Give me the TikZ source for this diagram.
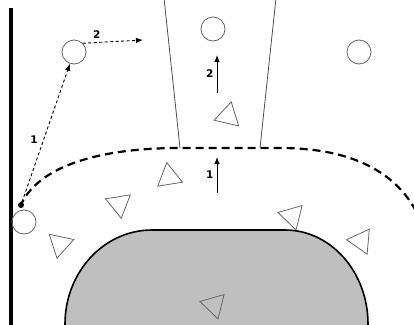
\documentclass[tikz,border=0pt]{standalone}
\usepackage{fontspec}
\setmainfont{DejaVu Sans}
\usetikzlibrary{shapes.geometric,arrows.meta}
\tikzset{node distance=2.5cm, auto,
  player/.style={circle, draw=black!60, line width=0.8pt, minimum size=24pt, inner sep=0pt},
  cone/.style={regular polygon, regular polygon sides=3, draw=black!60, line width=0.8pt, minimum size=29pt, inner sep=0pt},
  run/.style={-{Latex[length=7pt,width=5.5pt]}, line width=0.9pt},
  pass/.style={run, dash pattern=on 3pt off 2.5pt},
  num/.style={font=\bfseries\fontsize{10.5}{10.5}\selectfont, inner sep=3pt}}

\begin{document}
\begin{tikzpicture}[x=1pt,y=-1pt]
                \useasboundingbox (0,0) rectangle (414,324);
                % box and wall
                \draw[line width=1.6pt, fill=black!25] (65,328) -- (65,324)
                  arc[start angle=180, end angle=270, x radius=87, y radius=94] -- (285,230)
                  arc[start angle=270, end angle=360, x radius=83, y radius=94] -- (368,328);
                \draw[line width=3.5pt] (11,8) -- (11,328);
                \draw[black!70, line width=0.8pt] (164,-2) -- (180,148);
                \draw[black!70, line width=0.8pt] (276,-2) -- (260,148);
                \draw[line width=2.2pt, dash pattern=on 8pt off 5pt] (20,207)
                  .. controls (35,170) and (90,148) .. (180,148) -- (280,148)
                  .. controls (360,148) and (400,178) .. (418,215);
                % players
                \node[player] (P1) at (74,52)  {};
                \node[player] (P2) at (213,29) {};
                \node[player] (P3) at (359,52) {};
                \node[player] (P4) at (24,222) {};
                \node[circle, fill, inner sep=0pt, minimum size=6pt] (D) at (21,205) {};
                % cones
                \node[cone, rotate=-13] (T1) at (228,116) {};
                \node[cone, rotate=9]   (T2) at (169,177) {};
                \node[cone, rotate=-51] (T3) at (119,204) {};
                \node[cone, rotate=48]  (T4) at (60,244)  {};
                \node[cone, rotate=-44] (T5) at (292,216) {};
                \node[cone, rotate=85]  (T6) at (361,241) {};
                \node[cone, rotate=76]  (T7) at (214,305) {};
                % moves
                \coordinate (E)  at (143,40);
                \coordinate (A1) at (217,193);
                \coordinate (B1) at (217,157);
                \coordinate (A2) at (217,93);
                \coordinate (B2) at (217,55);
                \draw[pass] (D) to node[num, pos=0.4] {1} (P1);
                \draw[pass] (P1.north east) to node[num, pos=0.35] {2} (E);
                \draw[run] (A1) to node[num] {1} (B1);
                \draw[run] (A2) to node[num] {2} (B2);
\end{tikzpicture}
\end{document}
